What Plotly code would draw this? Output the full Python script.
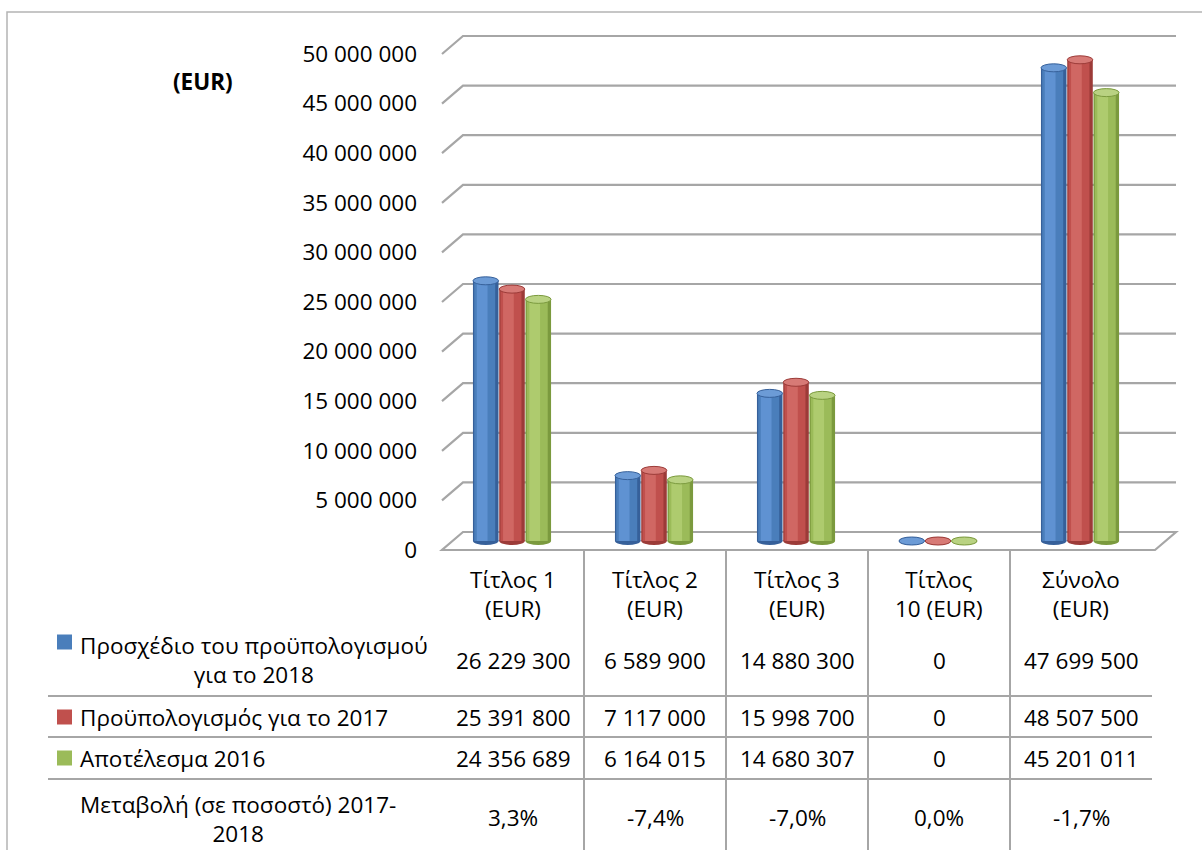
import plotly.graph_objects as go

# ---------------- data ----------------
categories = ["Τίτλος 1 (EUR)", "Τίτλος 2 (EUR)", "Τίτλος 3 (EUR)", "Τίτλος 10 (EUR)", "Σύνολο (EUR)"]
category_labels = ["Τίτλος 1<br>(EUR)", "Τίτλος 2<br>(EUR)", "Τίτλος 3<br>(EUR)", "Τίτλος<br>10 (EUR)", "Σύνολο<br>(EUR)"]
series_names = ["Προσχέδιο του προϋπολογισμού για το 2018", "Προϋπολογισμός για το 2017", "Αποτέλεσμα 2016"]
series_labels = ["Προσχέδιο του προϋπολογισμού<br>για το 2018", "Προϋπολογισμός για το 2017", "Αποτέλεσμα 2016"]
draft_2018 = [26229300, 6589900, 14880300, 0, 47699500]
budget_2017 = [25391800, 7117000, 15998700, 0, 48507500]
outturn_2016 = [24356689, 6164015, 14680307, 0, 45201011]
change_label = "Μεταβολή (σε ποσοστό) 2017-<br>2018"
change_pct = [3.3, -7.4, -7.0, 0.0, -1.7]
y_ticks = [0, 5000000, 10000000, 15000000, 20000000, 25000000, 30000000, 35000000, 40000000, 45000000, 50000000]
unit_label = "(EUR)"

series_values = [draft_2018, budget_2017, outturn_2016]

# ---------------- styling ----------------
W, H = 1202, 850
FONT = "Open Sans"
FS = 22.5
col_main = ["#4A7EBB", "#C0504D", "#9BBB59"]
col_edge = ["#36609A", "#9C3B38", "#7B9A3E"]
col_light = ["#5F92D2", "#D06763", "#AECB6E"]
col_top = ["#6C9BD6", "#D77A76", "#B9D282"]
GRID = "#A6A6A6"


def fx(x):
    return x / W


def fy(y):
    return (H - y) / H


def fmt(v):
    return f"{v:,}".replace(",", " ")


PX_PER_UNIT = 49.6 / 5e6
FRONT0, BACK0, BAR0 = 550.0, 532.0, 541.0
X_FRONT_L, X_BACK_L, X_FRONT_R, X_BACK_R = 442.0, 463.0, 1155.0, 1176.0
Y2_MIN, Y2_MAX = -2e6, 50e6

fig = go.Figure()

# cylinders built from layered bars
offsets = [-0.192, -0.007, 0.178]
bw = 0.18
layers = [(1.0, 0.0, col_edge), (0.82, -0.04, col_main), (0.42, -0.14, col_light)]
for s, vals in enumerate(series_values):
    for k, (wf, sh, cols) in enumerate(layers):
        fig.add_trace(go.Bar(
            x=[i + offsets[s] + sh * bw for i in range(len(categories))],
            y=vals,
            width=[bw * wf] * len(categories),
            marker=dict(color=cols[s], line=dict(width=0)),
            xaxis="x", yaxis="y2",
            name=series_names[s], showlegend=False, hoverinfo="skip",
        ))

# invisible trace so the front value axis is drawn
fig.add_trace(go.Scatter(x=[0], y=[0], mode="markers", marker=dict(opacity=0),
                         xaxis="x", yaxis="y", showlegend=False, hoverinfo="skip"))

shapes = []
# outer chart border
shapes.append(dict(type="rect", xref="paper", yref="paper", x0=fx(7), x1=fx(1230), y0=fy(12), y1=fy(880),
                   line=dict(color="#B4B4B4", width=1.5), fillcolor="rgba(0,0,0,0)", layer="below"))
# back wall gridlines with side-wall diagonals
for v in y_ticks[1:]:
    yf = FRONT0 - v * PX_PER_UNIT
    yb = BACK0 - v * PX_PER_UNIT
    path = f"M {fx(X_FRONT_L)} {fy(yf)} L {fx(X_BACK_L)} {fy(yb)} L {fx(X_BACK_R)} {fy(yb)}"
    shapes.append(dict(type="path", xref="paper", yref="paper", path=path,
                       line=dict(color=GRID, width=2.2), layer="below"))
# floor
path = (f"M {fx(X_FRONT_L)} {fy(FRONT0)} L {fx(X_FRONT_R)} {fy(FRONT0)} "
        f"L {fx(X_BACK_R)} {fy(BACK0)} L {fx(X_BACK_L)} {fy(BACK0)} Z")
shapes.append(dict(type="path", xref="paper", yref="paper", path=path,
                   line=dict(color=GRID, width=2.2), fillcolor="white", layer="below"))

# cylinder ends
e = 4.0 / PX_PER_UNIT
for s, vals in enumerate(series_values):
    for i, v in enumerate(vals):
        xc = i + offsets[s]
        shapes.append(dict(type="circle", xref="x", yref="y2", x0=xc - bw / 2, x1=xc + bw / 2,
                           y0=-e, y1=e, fillcolor=col_edge[s], line=dict(width=0), layer="below"))
        shapes.append(dict(type="circle", xref="x", yref="y2", x0=xc - bw / 2, x1=xc + bw / 2,
                           y0=v - e, y1=v + e, fillcolor=col_top[s],
                           line=dict(color=col_edge[s], width=1), layer="above"))

# data table lines
col_w = 142.0
col_left = 442.0
row_lines = [696, 737, 779]
for y in row_lines:
    shapes.append(dict(type="line", xref="paper", yref="paper", x0=fx(48), x1=fx(col_left + 5 * col_w),
                       y0=fy(y), y1=fy(y), line=dict(color=GRID, width=2)))
for i in range(1, 5):
    x = col_left + i * col_w
    shapes.append(dict(type="line", xref="paper", yref="paper", x0=fx(x), x1=fx(x),
                       y0=fy(FRONT0), y1=fy(860), line=dict(color=GRID, width=2)))
# legend keys
key_y = [642, 717, 758]
for s in range(3):
    shapes.append(dict(type="rect", xref="paper", yref="paper", x0=fx(57), x1=fx(72),
                       y0=fy(key_y[s] - 7.5), y1=fy(key_y[s] + 7.5),
                       fillcolor=col_main[s], line=dict(width=0)))

annotations = []


def ann(text, x, y, xanchor="center", bold=False, size=FS):
    annotations.append(dict(text=f"<b>{text}</b>" if bold else text, x=fx(x), y=fy(y),
                            xref="paper", yref="paper", showarrow=False, xanchor=xanchor,
                            yanchor="middle", align="center", borderpad=0,
                            font=dict(family=FONT, size=size, color="black")))


ann(unit_label, 203, 81, bold=True)
centers = [col_left + col_w * (i + 0.5) for i in range(5)]
for i, lab in enumerate(category_labels):
    ann(lab, centers[i], 594)
row_y = [660, 717, 758]
label_y = [660, 717, 758]
for s in range(3):
    ann(series_labels[s], 79, label_y[s], xanchor="left")
    for i, v in enumerate(series_values[s]):
        ann(fmt(v), centers[i], row_y[s])
ann(change_label, 79, 819, xanchor="left")
for i, p in enumerate(change_pct):
    ann(f"{p:.1f}%".replace(".", ","), centers[i], 817)

fig.update_layout(
    width=W, height=H,
    margin=dict(l=0, r=0, t=0, b=0, autoexpand=False),
    paper_bgcolor="white", plot_bgcolor="rgba(0,0,0,0)",
    barmode="overlay", showlegend=False,
    font=dict(family=FONT, size=FS, color="black"),
    xaxis=dict(domain=[fx(col_left), fx(col_left + 5 * col_w)], range=[-0.5, 4.5],
               visible=False, anchor="y", fixedrange=True, automargin=False),
    yaxis=dict(domain=[fy(FRONT0), fy(FRONT0 - 10 * 49.6)], range=[0, 50e6], anchor="x",
               tickvals=y_ticks, ticktext=[fmt(v) for v in y_ticks], showgrid=False,
               zeroline=False, showline=False, ticks="", ticklabelstandoff=24, automargin=False,
               tickfont=dict(family=FONT, size=FS, color="black"), fixedrange=True),
    yaxis2=dict(domain=[fy(BAR0 - Y2_MIN * PX_PER_UNIT), fy(BAR0 - Y2_MAX * PX_PER_UNIT)],
                range=[Y2_MIN, Y2_MAX], anchor="x", visible=False, fixedrange=True, automargin=False),
    shapes=shapes, annotations=annotations,
)

fig.write_html(
    "out.html",
    config={"displayModeBar": False},
    post_script="document.body.style.margin='0';document.body.style.overflow='hidden';",
)
